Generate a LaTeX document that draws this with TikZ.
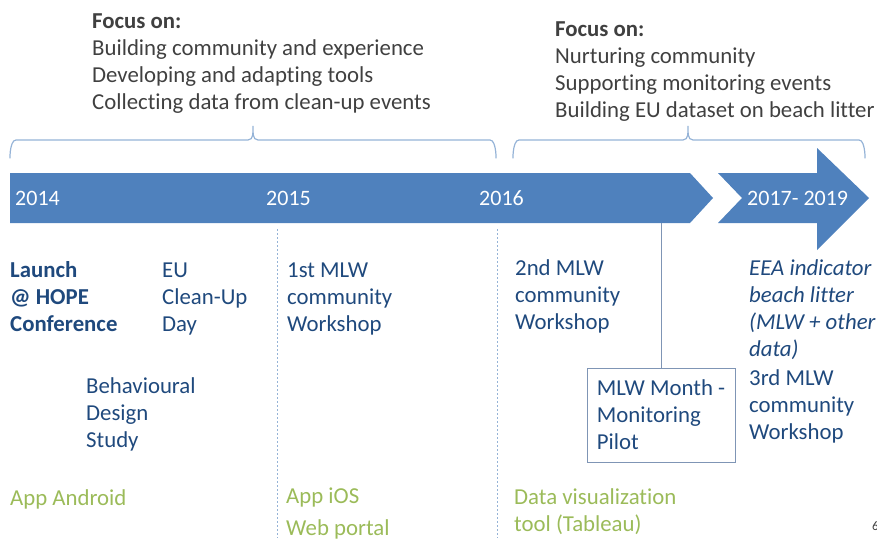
\documentclass[tikz,border=0pt]{standalone}
\usepackage{fontspec}
\setmainfont{Carlito}[Ligatures=NoCommon]
\usetikzlibrary{positioning}
\definecolor{barblue}{HTML}{4F81BD}
\definecolor{bracecol}{HTML}{95B3D7}
\definecolor{evtblue}{HTML}{1F497D}
\definecolor{toolgreen}{HTML}{9BBB59}
\definecolor{focusgray}{HTML}{404040}
\definecolor{linkcol}{HTML}{7F95B5}
% multi-line nodes are placed by the baseline of their last line
\tikzset{focus/.style={anchor=base west,inner sep=0pt,align=left,text=focusgray,font=\fontsize{22.8}{27}\selectfont}}
\tikzset{event/.style={focus,text=evtblue}}
\tikzset{tool/.style={focus,text=toolgreen}}
\tikzset{year/.style={anchor=base west,inner sep=0pt,text=white,font=\fontsize{22}{27}\selectfont}}
\tikzset{brace/.style={draw=bracecol,line width=1.2pt}}
\tikzset{yearline/.style={draw=bracecol,dash pattern=on 2pt off 2pt,line width=1pt}}
\tikzset{monthbox/.style={draw=linkcol,line width=1pt,minimum width=148pt,minimum height=94pt,align=left,text=evtblue,font=\fontsize{22.8}{27}\selectfont}}

\begin{document}
\begin{tikzpicture}[x=1pt,y=-1pt]
\useasboundingbox (0,0) rectangle (877,538);

% focus texts
\node[focus] (focA) at (92,109) {\textbf{Focus on:}\\Building community and experience\\Developing and adapting tools\\Collecting data from clean-up events};
\node[focus] (focB) at (555,117) {\textbf{Focus on:}\\Nurturing community\\Supporting monitoring events\\Building EU dataset on beach litter};

% braces
\draw[brace] (10,157) to[out=-90,in=180] (16,140) -- (248,140) to[out=0,in=-90] (253,126)
  to[out=-90,in=180] (258,140) -- (490,140) to[out=0,in=-90] (496,157);
\draw[brace] (513,157) to[out=-90,in=180] (519,140) -- (683,140) to[out=0,in=-90] (688,126)
  to[out=-90,in=180] (693,140) -- (859,140) to[out=0,in=-90] (865,157);

% time bar
\fill[barblue] (10,173) -- (690,173) -- (713,198) -- (690,223) -- (10,223) -- cycle;
\fill[barblue] (718,173) -- (817,173) -- (817,148) -- (869,198) -- (817,250) -- (817,223)
  -- (718,223) -- (742,198) -- cycle;
\node[year] (y14) at (15,205) {2014};
\node[year] (y15) at (266,205) {2015};
\node[year] (y16) at (479,205) {2016};
\node[year] (y17) at (747,205) {2017- 2019};

% year separators
\draw[yearline] (277,229) -- (277,538);
\draw[yearline] (497,229) -- (497,538);

% events
\node[event] (launch) at (10,331) {\textbf{Launch}\\\textbf{@ HOPE}\\\textbf{Conference}};
\node[event] (euday) at (162,331) {EU\\Clean-Up\\Day};
\node[event] (bds) at (86,447) {Behavioural\\Design\\Study};
\node[event] (mlw1) at (287,331) {1st MLW\\community\\Workshop};
\node[event] (mlw2) at (515,329) {2nd MLW\\community\\Workshop};
\node[event] (eea) at (749,356) {\itshape EEA indicator\\\itshape beach litter\\\itshape (MLW + other\\\itshape data)};
\node[event] (mlw3) at (749,439) {3rd MLW\\community\\Workshop};

\node[monthbox] (month) at (661,415) {MLW Month -\\Monitoring\\Pilot};
\coordinate (barfoot) at (661,223);
\draw[linkcol,line width=1pt] (barfoot) -- (month);

% tools
\node[tool] (android) at (10,505) {App Android};
\node[tool] (ios) at (286,503) {App iOS};
\node[tool] (portal) at (286,535) {Web portal};
\node[tool] (tableau) at (514,531) {Data visualization\\tool (Tableau)};

\node[anchor=base west,inner sep=0pt,text=focusgray,font=\fontsize{13}{15}\selectfont] (page) at (872,530) {6};
\end{tikzpicture}
\end{document}
